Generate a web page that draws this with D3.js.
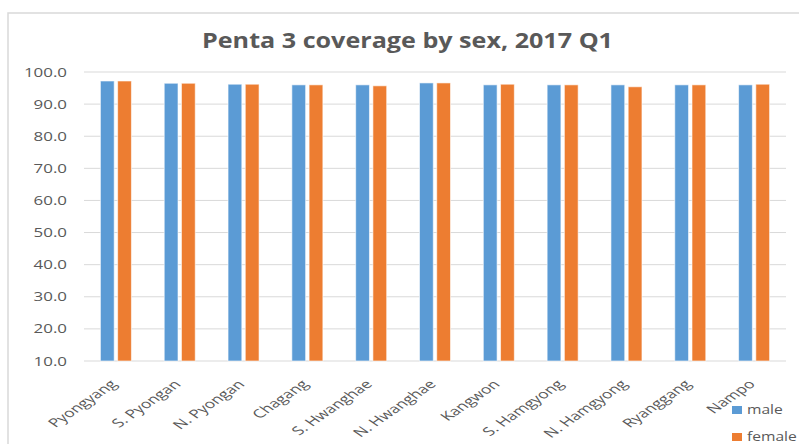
<!DOCTYPE html>
<html lang="en">
<head>
  <meta charset="UTF-8">
  <title>Penta 3 coverage by sex</title>
  <script src="https://d3js.org/d3.v7.min.js"></script>
  <style>
    html, body { margin: 0; padding: 0; background: #fff; }
    svg { display: block; font-family: "Open Sans", sans-serif; }
    .grid line { stroke: #d9d9d9; stroke-width: 1px; }
    .tick-label { fill: #595959; font-size: 13px; }
  </style>
</head>
<body>
  <svg width="799" height="444"></svg>
  <script>
    const provinces = ["Pyongyang", "S. Pyongan", "N. Pyongan", "Chagang", "S. Hwanghae", "N. Hwanghae",
                       "Kangwon", "S. Hamgyong", "N. Hamgyong", "Ryanggang", "Nampo"];
    const male   = [97.2, 96.5, 96.2, 96.0, 96.0, 96.6, 96.0, 96.0, 96.0, 96.0, 96.0];
    const female = [97.2, 96.5, 96.2, 96.0, 95.7, 96.6, 96.2, 96.0, 95.4, 96.0, 96.2];
    const seriesNames = ["male", "female"];
    const yTicks = [10, 20, 30, 40, 50, 60, 70, 80, 90, 100];

    const colors = { male: "#5b9bd5", female: "#ed7d31" };
    const rows = provinces.map((p, i) => ({ name: p, male: male[i], female: female[i] }));

    const svg = d3.select("svg");
    const plot = { left: 84, right: 786, top: 72, bottom: 361 };

    // outer frame (left + top edges visible)
    svg.append("path")
      .attr("d", "M8,444 V13 H799")
      .attr("fill", "none").attr("stroke", "#d9d9d9").attr("stroke-width", 1.5);

    const x0 = d3.scaleBand().domain(provinces).range([plot.left, plot.right]).paddingInner(0.514).paddingOuter(0.257);
    const x1 = d3.scaleBand().domain(seriesNames).range([0, x0.bandwidth()]).paddingInner(0.2);
    const y = d3.scaleLinear().domain([10, 100]).range([plot.bottom, plot.top]);

    // the original picture is stretched sideways, so widen text to match
    function stretch(sel, k) {
      sel.each(function() {
        const w = this.getComputedTextLength();
        d3.select(this).attr("textLength", w * k).attr("lengthAdjust", "spacingAndGlyphs");
      });
    }

    // gridlines
    svg.append("g").attr("class", "grid")
      .selectAll("line").data(yTicks).join("line")
        .attr("x1", plot.left).attr("x2", plot.right)
        .attr("y1", d => y(d)).attr("y2", d => y(d));

    // y labels
    svg.append("g").selectAll("text").data(yTicks).join("text")
      .attr("class", "tick-label")
      .attr("x", 67).attr("y", d => y(d)).attr("dy", "0.35em")
      .attr("text-anchor", "end")
      .text(d => d.toFixed(1))
      .call(stretch, 1.3);

    // bars
    svg.append("g").selectAll("g").data(rows).join("g")
      .attr("transform", d => `translate(${x0(d.name)},0)`)
      .selectAll("rect").data(d => seriesNames.map(k => ({ key: k, value: d[k] }))).join("rect")
        .attr("x", d => x1(d.key))
        .attr("width", x1.bandwidth())
        .attr("y", d => y(d.value))
        .attr("height", d => y(10) - y(d.value))
        .attr("fill", d => colors[d.key])
        .attr("stroke", "rgba(255,255,255,0.6)").attr("stroke-width", 1);

    // x labels: -45deg text, then stretched sideways like the source image
    svg.append("g").selectAll("text").data(provinces).join("text")
      .attr("class", "tick-label")
      .style("font-size", "12px")
      .attr("text-anchor", "end")
      .attr("transform", d => `translate(${x0(d) + x0.bandwidth() / 2 + 2},385) scale(1.45,1) rotate(-45)`)
      .text(d => d);

    // title
    svg.append("text")
      .attr("x", 407.5).attr("y", 48)
      .attr("text-anchor", "middle")
      .attr("fill", "#595959")
      .attr("font-size", 21).attr("font-weight", "bold")
      .attr("textLength", 411).attr("lengthAdjust", "spacingAndGlyphs")
      .text("Penta 3 coverage by sex, 2017 Q1");

    // legend
    const legend = svg.append("g").selectAll("g").data(seriesNames).join("g")
      .attr("transform", (d, i) => `translate(732,${406 + i * 27})`);
    legend.append("rect").attr("width", 10).attr("height", 8).attr("fill", d => colors[d]);
    legend.append("text")
      .attr("class", "tick-label")
      .attr("x", 15).attr("y", 8)
      .text(d => d)
      .call(stretch, 1.2);
  </script>
</body>
</html>
